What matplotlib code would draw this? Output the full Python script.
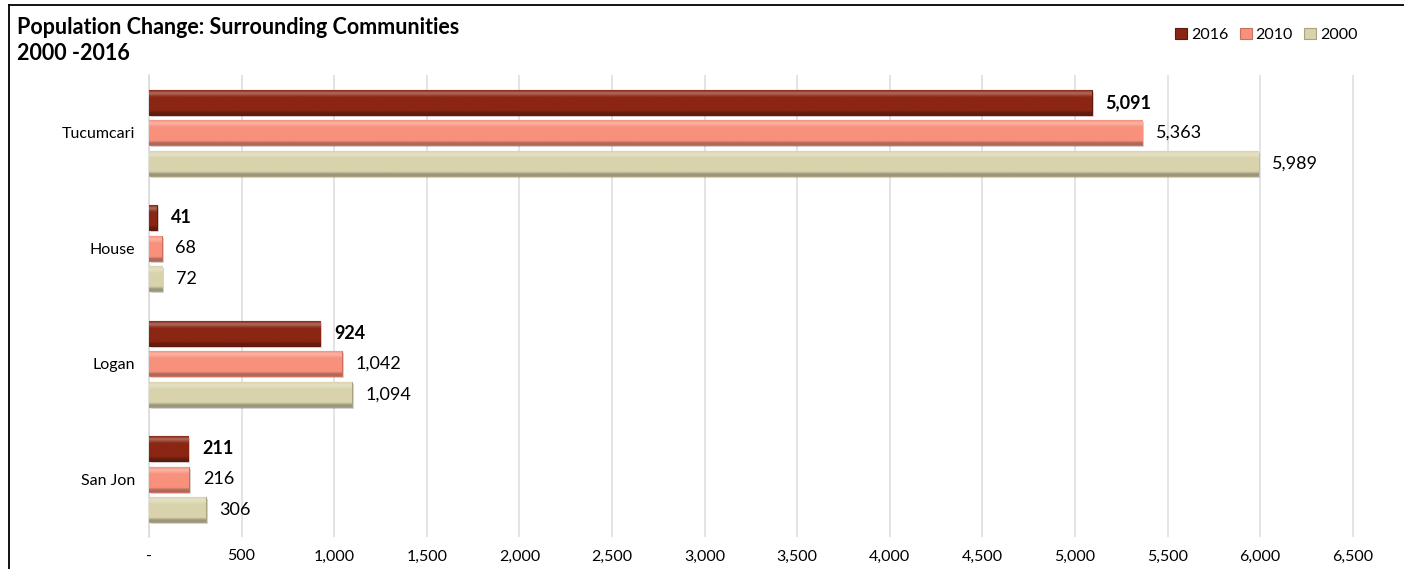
import numpy as np
import matplotlib
matplotlib.use("Agg")
import matplotlib.pyplot as plt
import matplotlib.colors as mcolors
from matplotlib.lines import Line2D
from matplotlib.ticker import FuncFormatter
from matplotlib.transforms import offset_copy

# Population by community and census year
towns = ["Tucumcari", "House", "Logan", "San Jon"]
years = ["2016", "2010", "2000"]
pop_2016 = [5091, 41, 924, 211]
pop_2010 = [5363, 68, 1042, 216]
pop_2000 = [5989, 72, 1094, 306]
x_ticks = [0, 500, 1000, 1500, 2000, 2500, 3000, 3500, 4000, 4500, 5000, 5500, 6000, 6500]

plt.rcParams["font.family"] = ["Lato", "DejaVu Sans"]


def bevel_image(color, n=64):
    # vertical shading: darker lower edge, flat body, lighter top band
    base = np.array(mcolors.to_rgb(color))
    t = np.linspace(0, 1, n)
    rows = []
    for v in t:
        if v < 0.08:
            c = base * 0.72
        elif v < 0.18:
            c = base * (0.72 + 0.28 * (v - 0.08) / 0.10)
        elif v < 0.72:
            c = base
        elif v < 0.90:
            k = (v - 0.72) / 0.18
            c = base + (1 - base) * 0.35 * k
        else:
            c = base + (1 - base) * 0.35 * (1 - (v - 0.90) / 0.10) * 0.8
        rows.append(c)
    img = np.array(rows)[:, None, :]
    return np.repeat(img, 2, axis=1)


def main():
    fig = plt.figure(figsize=(14.04, 5.69), dpi=100)
    ax = fig.add_axes([149 / 1404, 1 - 537 / 569, 1 - 149 / 1404, (537 - 75) / 569])

    series = [pop_2016, pop_2010, pop_2000]
    colors = ["#8a2613", "#f8917c", "#d9d3ac"]
    edges = ["#5e190c", "#c8705f", "#a8a283"]
    slot = 0.264
    bar_h = 0.216
    ypos = np.arange(len(towns))[::-1]

    for i, (vals, col, ec, yr) in enumerate(zip(series, colors, edges, years)):
        y = ypos + (1 - i) * slot
        # soft drop shadow
        ax.barh(y, vals, height=bar_h, color="#000000", alpha=0.16,
                transform=offset_copy(ax.transData, fig, x=2, y=-2, units="dots"),
                zorder=2)
        bars = ax.barh(y, vals, height=bar_h, color=col, edgecolor=ec,
                       linewidth=0.8, label=yr, zorder=3)
        for rect in bars:
            x0, y0 = rect.get_x(), rect.get_y()
            w, h = rect.get_width(), rect.get_height()
            im = ax.imshow(bevel_image(col), extent=[x0, x0 + w, y0, y0 + h],
                           origin="lower", aspect="auto", zorder=3.5,
                           interpolation="bilinear")
            im.set_clip_path(rect)
        for yy, v in zip(y, vals):
            ax.annotate(f"{v:,}", xy=(v, yy), xytext=(10, 0),
                        textcoords="offset points", va="center", ha="left",
                        fontsize=13, fontweight="bold" if yr == "2016" else "normal",
                        color="#000000", zorder=5)

    ax.set_xlim(0, 6777)
    ax.set_ylim(-0.5, len(towns) - 0.5)
    ax.set_xticks(x_ticks)
    ax.xaxis.set_major_formatter(FuncFormatter(lambda v, p: "-" if v == 0 else f"{int(v):,}"))
    ax.set_yticks(ypos)
    ax.set_yticklabels(towns)
    ax.tick_params(axis="x", length=0, labelsize=11.5, pad=9)
    ax.tick_params(axis="y", length=0, labelsize=11.5, pad=10)
    ax.grid(axis="x", color="#dcdcdc", linewidth=1.1, zorder=0)
    ax.set_axisbelow(True)
    for side in ["top", "right", "bottom"]:
        ax.spines[side].set_visible(False)
    ax.spines["left"].set_color("#d9d9d9")
    ax.spines["left"].set_linewidth(1.1)

    fig.text(17 / 1404, 1 - 27 / 569, "Population Change: Surrounding Communities",
             fontsize=15.5, fontweight="bold", va="center", ha="left")
    fig.text(17 / 1404, 1 - 54 / 569, "2000 -2016",
             fontsize=15.5, fontweight="bold", va="center", ha="left")

    fig.legend(loc="center right", bbox_to_anchor=(1372 / 1404, 1 - 35 / 569),
               ncol=3, frameon=False, fontsize=11.5, handlelength=0.75,
               handleheight=0.75, handletextpad=0.25, columnspacing=0.7)

    # outer chart frame
    fig.add_artist(Line2D([9 / 1404, 9 / 1404], [0, 1 - 5 / 569], color="black",
                          linewidth=1.3, transform=fig.transFigure))
    fig.add_artist(Line2D([9 / 1404, 1], [1 - 5 / 569, 1 - 5 / 569], color="black",
                          linewidth=1.3, transform=fig.transFigure))

    fig.savefig("out.png", dpi=100)


if __name__ == "__main__":
    main()
